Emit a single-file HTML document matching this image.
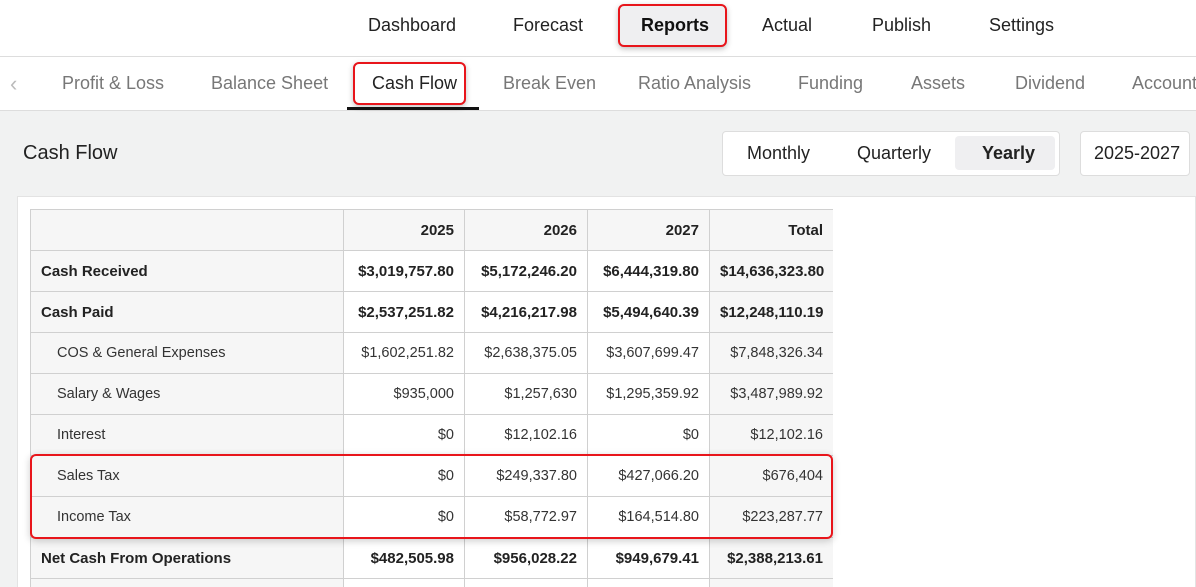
<!DOCTYPE html>
<html><head><style>
*{box-sizing:border-box;margin:0;padding:0}
html,body{width:1196px;height:587px;overflow:hidden}
body{background:#f1f2f2;font-family:"Liberation Sans",sans-serif;position:relative;color:#222}
.top{position:absolute;left:0;top:0;width:1196px;height:57px;background:#fff;border-bottom:1px solid #ddd}
.top span{position:absolute;top:15px;font-size:18px;color:#222}
.tabs{position:absolute;left:0;top:57px;width:1196px;height:54px;background:#fff;border-bottom:1px solid #ddd}
.tabs span{position:absolute;top:16px;font-size:18px;color:#777}
.box{position:absolute;border:2px solid #e8151b;border-radius:6px;box-shadow:0 2px 6px rgba(0,0,0,.25)}
.card{position:absolute;left:17px;top:196px;width:1179px;height:391px;background:#fff;border:1px solid #e3e3e3;border-bottom:none}
.wrap{position:absolute;left:30px;top:209px;width:803px;height:378px;overflow:hidden}
table{border-collapse:collapse;font-size:14.5px;table-layout:fixed;width:803px}
td{height:41px;border:1px solid #d0d0d0;text-align:right;padding:0 10px;white-space:nowrap;overflow:visible;color:#333}
td:first-child{text-align:left;background:#f6f6f6}
td.t{background:#f6f6f6}
tr.h td{background:#f6f6f6;font-weight:bold;font-size:15px;color:#222}
tr.b td{font-weight:bold;font-size:15px;color:#222}
tr.l td{height:9px;border-bottom:none}
td.s{padding-left:26px}
</style></head><body>
<div class="top">
<span style="left:368px">Dashboard</span>
<span style="left:513px">Forecast</span>
<div class="box" style="left:618px;top:4px;width:109px;height:43px;background:#efeff1"></div>
<span style="left:641px;font-weight:bold;color:#111">Reports</span>
<span style="left:762px">Actual</span>
<span style="left:872px">Publish</span>
<span style="left:989px">Settings</span>
</div>
<div class="tabs">
<span style="left:10px;color:#bbb;font-size:22px;top:14px">‹</span>
<span style="left:62px">Profit &amp; Loss</span>
<span style="left:211px">Balance Sheet</span>
<div class="box" style="left:353px;top:5px;width:113px;height:43px;background:#fff"></div>
<span style="left:372px;color:#222">Cash Flow</span>
<div style="position:absolute;left:347px;top:50px;width:132px;height:3px;background:#111"></div>
<span style="left:503px">Break Even</span>
<span style="left:638px">Ratio Analysis</span>
<span style="left:798px">Funding</span>
<span style="left:911px">Assets</span>
<span style="left:1015px">Dividend</span>
<span style="left:1132px">Accounts</span>
</div>
<div style="position:absolute;left:23px;top:142px;font-size:20px;color:#222">Cash Flow</div>
<div style="position:absolute;left:722px;top:131px;width:338px;height:45px;background:#fff;border:1px solid #ddd;border-radius:4px"></div>
<div style="position:absolute;left:955px;top:136px;width:100px;height:34px;background:#efeff1;border-radius:4px"></div>
<div style="position:absolute;left:747px;top:143px;font-size:18px">Monthly</div>
<div style="position:absolute;left:857px;top:143px;font-size:18px">Quarterly</div>
<div style="position:absolute;left:982px;top:143px;font-size:18px;font-weight:bold">Yearly</div>
<div style="position:absolute;left:1080px;top:131px;width:110px;height:45px;background:#fff;border:1px solid #ddd;border-radius:4px;font-size:18px;padding:11px 0 0 13px">2025-2027</div>
<div class="card"></div>
<div class="wrap">
<table>
<colgroup><col style="width:313px"><col style="width:121px"><col style="width:123px"><col style="width:122px"><col style="width:124px"></colgroup>
<tr class="h"><td></td><td>2025</td><td>2026</td><td>2027</td><td class="t">Total</td></tr>
<tr class="b"><td>Cash Received</td><td>$3,019,757.80</td><td>$5,172,246.20</td><td>$6,444,319.80</td><td class="t">$14,636,323.80</td></tr>
<tr class="b"><td>Cash Paid</td><td>$2,537,251.82</td><td>$4,216,217.98</td><td>$5,494,640.39</td><td class="t">$12,248,110.19</td></tr>
<tr><td class="s">COS &amp; General Expenses</td><td>$1,602,251.82</td><td>$2,638,375.05</td><td>$3,607,699.47</td><td class="t">$7,848,326.34</td></tr>
<tr><td class="s">Salary &amp; Wages</td><td>$935,000</td><td>$1,257,630</td><td>$1,295,359.92</td><td class="t">$3,487,989.92</td></tr>
<tr><td class="s">Interest</td><td>$0</td><td>$12,102.16</td><td>$0</td><td class="t">$12,102.16</td></tr>
<tr><td class="s">Sales Tax</td><td>$0</td><td>$249,337.80</td><td>$427,066.20</td><td class="t">$676,404</td></tr>
<tr><td class="s">Income Tax</td><td>$0</td><td>$58,772.97</td><td>$164,514.80</td><td class="t">$223,287.77</td></tr>
<tr class="b"><td>Net Cash From Operations</td><td>$482,505.98</td><td>$956,028.22</td><td>$949,679.41</td><td class="t">$2,388,213.61</td></tr>
<tr class="l"><td></td><td></td><td></td><td></td><td class="t"></td></tr>
</table>
</div>
<div class="box" style="left:30px;top:454px;width:803px;height:85px;box-shadow:0 2px 8px rgba(0,0,0,.2)"></div>
</body></html>
